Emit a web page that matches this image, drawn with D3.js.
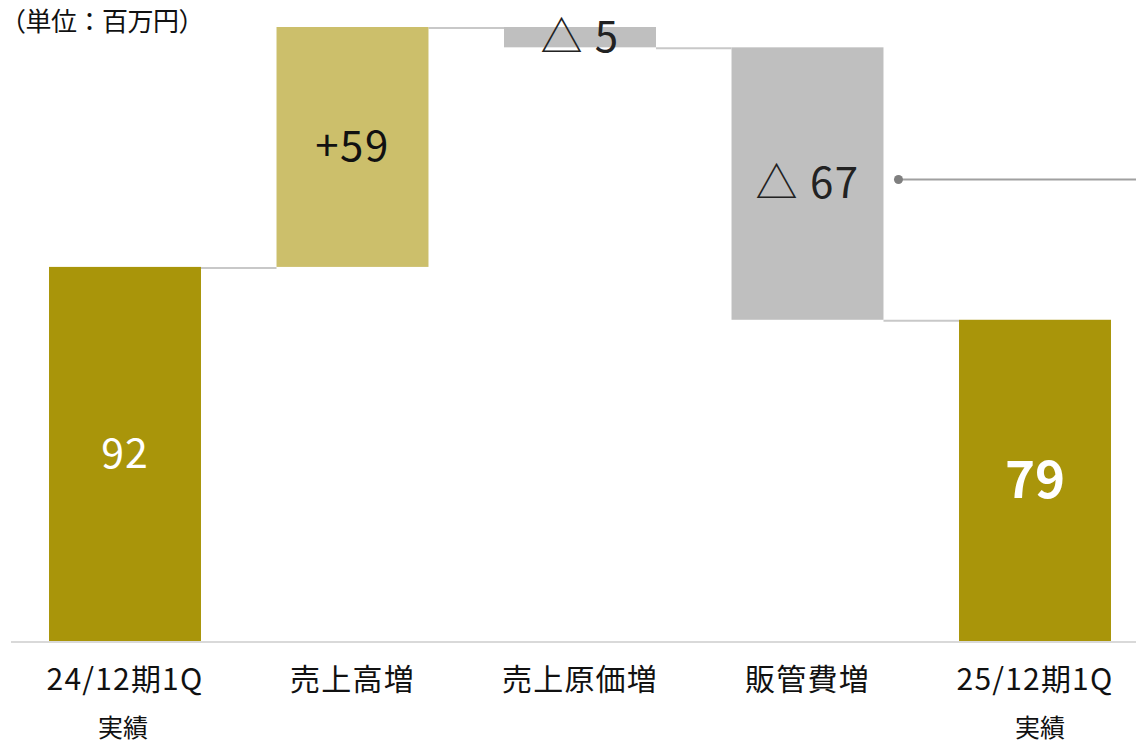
<!DOCTYPE html>
<html>
<head>
<meta charset="utf-8">
<script src="https://cdn.jsdelivr.net/npm/d3@7"></script>
<style>
  html, body { margin: 0; padding: 0; background: #fff; }
  svg { display: block; font-family: "Noto Sans CJK JP", "Noto Sans", sans-serif; }
</style>
</head>
<body>
<svg id="chart" width="1136" height="744"></svg>
<script>
// Operating profit bridge (million yen)
const categories = ["24/12期1Q", "売上高増", "売上原価増", "販管費増", "25/12期1Q"];
const subLabels  = ["実績", "", "", "", "実績"];
const deltas     = [92, 59, -5, -67, 79];   // first and last are totals
const kinds      = ["total", "up", "down", "down", "total"];
const valueLabels = ["92", "+59", "△ 5", "△ 67", "79"];
const unitLabel = "（単位：百万円）";

const svg = d3.select("#chart");
const W = 1136, H = 744;

// Build floating segments
let running = 0;
const bars = categories.map((c, i) => {
  let y0, y1;
  if (kinds[i] === "total") { y0 = 0; y1 = deltas[i]; running = deltas[i]; }
  else { y0 = running; y1 = running + deltas[i]; running = y1; }
  return { cat: c, kind: kinds[i], lo: Math.min(y0, y1), hi: Math.max(y0, y1), end: running, label: valueLabels[i], sub: subLabels[i] };
});

const x = d3.scaleBand().domain(categories).range([11.25, 1148.75]).paddingInner(0.332).paddingOuter(0.166);
const y = d3.scaleLinear().domain([0, 151]).range([641, 27]);

const fill = { total: "#a9950a", up: "#ccbf6b", down: "#bfbfbf" };

// connectors
const conn = svg.append("g");
bars.slice(0, -1).forEach((b, i) => {
  const n = bars[i + 1];
  conn.append("line")
    .attr("x1", x(b.cat) + x.bandwidth()).attr("x2", x(n.cat))
    .attr("y1", y(b.end) + 1).attr("y2", y(b.end) + 1)
    .attr("stroke", "#c8c8c8").attr("stroke-width", 2);
});

// bars
svg.append("g").selectAll("rect").data(bars).join("rect")
  .attr("x", d => x(d.cat)).attr("width", x.bandwidth())
  .attr("y", d => y(d.hi)).attr("height", d => y(d.lo) - y(d.hi))
  .attr("fill", d => fill[d.kind]);

// baseline
svg.append("line").attr("x1", 11).attr("x2", W).attr("y1", y(0) + 1).attr("y2", y(0) + 1)
  .attr("stroke", "#d9d9d9").attr("stroke-width", 2);

// value labels
const labelStyle = [
  { fill: "#ffffff", size: 41, weight: 400, ls: 1 },
  { fill: "#111111", size: 42, weight: 400, ls: 1.5 },
  { fill: "#222222", size: 42, weight: 400, ls: 1.5 },
  { fill: "#222222", size: 42, weight: 400, ls: 1.5 },
  { fill: "#ffffff", size: 51, weight: 700, ls: 0 }
];
svg.append("g").selectAll("text").data(bars).join("text")
  .attr("x", d => x(d.cat) + x.bandwidth() / 2)
  .attr("y", d => y((d.lo + d.hi) / 2) - 4)
  .attr("text-anchor", "middle").attr("dominant-baseline", "central")
  .attr("fill", (d, i) => labelStyle[i].fill)
  .attr("font-size", (d, i) => labelStyle[i].size)
  .attr("font-weight", (d, i) => labelStyle[i].weight)
  .attr("letter-spacing", (d, i) => labelStyle[i].ls)
  .text(d => d.label);

// leader line from the SG&A bar label
const sga = bars[3];
const ly = y((sga.lo + sga.hi) / 2) - 4;
svg.append("line").attr("x1", x(sga.cat) + x.bandwidth() + 15).attr("x2", W)
  .attr("y1", ly).attr("y2", ly).attr("stroke", "#a0a0a0").attr("stroke-width", 2);
svg.append("circle").attr("cx", x(sga.cat) + x.bandwidth() + 15).attr("cy", ly).attr("r", 4.5).attr("fill", "#7f7f7f");

// category labels
const axis = svg.append("g");
axis.selectAll("text.cat").data(bars).join("text").attr("class", "cat")
  .attr("x", d => x(d.cat) + x.bandwidth() / 2).attr("y", 690)
  .attr("text-anchor", "middle").attr("font-size", 30).attr("letter-spacing", 1.2).attr("fill", "#111")
  .text(d => d.cat);
axis.selectAll("text.sub").data(bars.filter(d => d.sub)).join("text").attr("class", "sub")
  .attr("x", d => x(d.cat) + x.bandwidth() / 2 + (d.cat === categories[4] ? 5 : -2)).attr("y", 737)
  .attr("text-anchor", "middle").attr("font-size", 25).attr("fill", "#111")
  .text(d => d.sub);

// unit
svg.append("text").attr("x", 0).attr("y", 31).attr("font-size", 26).attr("letter-spacing", -0.5).attr("fill", "#111").text(unitLabel);
</script>
</body>
</html>
